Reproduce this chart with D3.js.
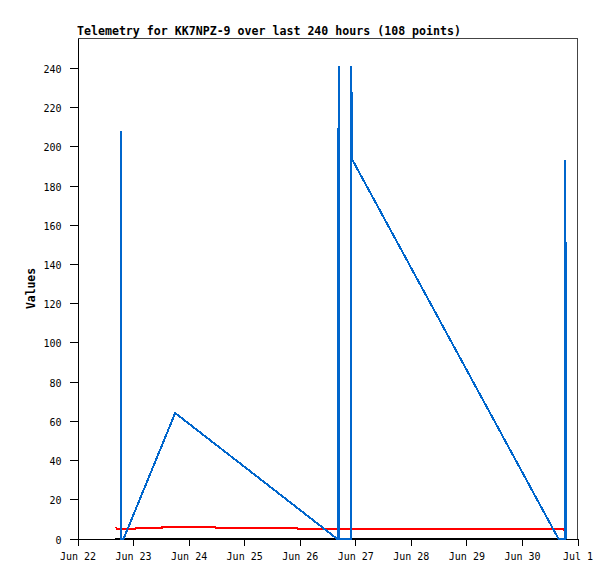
<!DOCTYPE html>
<html>
<head>
<meta charset="utf-8">
<script src="https://cdn.jsdelivr.net/npm/d3@7"></script>
<style>
  html, body { margin: 0; padding: 0; background: #fff; }
  svg { display: block; }
</style>
</head>
<body>
<svg id="chart" width="615" height="579"></svg>
<script>
// ---- data ----
const titleText = "Telemetry for KK7NPZ-9 over last 240 hours (108 points)";
const yLabel = "Values";
const xDomain = ["2023-06-22T00:00", "2023-07-01T00:00"];
const yDomain = [0, 255];
const yTicks = [0, 20, 40, 60, 80, 100, 120, 140, 160, 180, 200, 220, 240];

const blueTimes = [
  "2023-06-22T18:53", "2023-06-22T18:53", "2023-06-22T19:58", "2023-06-23T18:12",
  "2023-06-26T15:58", "2023-06-26T16:45", "2023-06-26T16:45", "2023-06-26T17:00",
  "2023-06-26T17:00", "2023-06-26T22:13", "2023-06-26T22:13", "2023-06-26T22:48",
  "2023-06-30T15:42", "2023-06-30T18:40", "2023-06-30T18:40", "2023-06-30T18:58",
  "2023-06-30T18:58"
];
const blueValues = [208, 0, 0, 64, 0, 0, 208, 241, 0, 0, 241, 193, 0, 0, 193, 112, 0];

const redTimes = [
  "2023-06-22T16:35", "2023-06-22T17:09", "2023-06-23T01:04", "2023-06-23T01:11",
  "2023-06-23T12:25", "2023-06-23T12:33", "2023-06-24T11:26", "2023-06-24T11:34",
  "2023-06-25T22:52", "2023-06-25T23:00", "2023-06-30T17:57", "2023-06-30T18:05"
];
const redValues = [5.9, 4.75, 4.75, 5.4, 5.4, 5.9, 5.9, 5.4, 5.4, 4.9, 4.9, 4.0];

const blackTimes = ["2023-06-22T16:18", "2023-06-30T19:22"];
const blackValues = [0, 0];

// ---- drawing ----
const parse = d3.timeParse("%Y-%m-%dT%H:%M");
const zip = (ts, vs) => ts.map((t, i) => ({ t: parse(t), v: vs[i] }));

const margin = { left: 77.5, right: 577.5, top: 38.5, bottom: 538.5 };
const svg = d3.select("#chart");
const mono = "'DejaVu Sans Mono', 'Liberation Mono', monospace";

const x = d3.scaleTime().domain(xDomain.map(parse)).range([margin.left, margin.right]);
const y = d3.scaleLinear().domain(yDomain).range([margin.bottom, margin.top]);

// frame (top / right)
svg.append("path")
  .attr("d", `M${margin.left},${margin.top}H${margin.right}V${margin.bottom}`)
  .attr("fill", "none").attr("stroke", "#444").attr("stroke-width", 1)
  .attr("shape-rendering", "crispEdges");

// axes
const yAxis = svg.append("g")
  .attr("transform", `translate(${margin.left},0)`)
  .call(d3.axisLeft(y).tickValues(yTicks).tickSize(8).tickSizeOuter(0).tickPadding(8));
yAxis.selectAll("text").attr("dy", "0.45em");

const xAxis = svg.append("g")
  .attr("transform", `translate(0,${margin.bottom})`)
  .call(d3.axisBottom(x).ticks(d3.timeDay.every(1)).tickFormat(d3.timeFormat("%b %-d"))
    .tickSize(7).tickSizeOuter(0).tickPadding(7));

[yAxis, xAxis].forEach(g => {
  g.attr("shape-rendering", "crispEdges");
  g.selectAll("path, line").attr("stroke", "#000");
  g.selectAll("text").attr("font-family", mono).attr("font-size", "10px").attr("fill", "#000");
});

// series
const line = d3.line().x(d => x(d.t)).y(d => y(d.v));
const series = [
  { data: zip(blackTimes, blackValues), color: "#000000" },
  { data: zip(redTimes, redValues), color: "#ff0000" },
  { data: zip(blueTimes, blueValues), color: "#0066cc" }
];
svg.append("g").selectAll("path").data(series).join("path")
  .attr("d", d => line(d.data))
  .attr("fill", "none")
  .attr("stroke", d => d.color)
  .attr("stroke-width", 2)
  .attr("shape-rendering", "crispEdges");

// title
svg.append("text")
  .attr("x", 77).attr("y", 35)
  .attr("font-family", mono).attr("font-size", "11.4px").attr("font-weight", "bold")
  .attr("textLength", 384).attr("lengthAdjust", "spacingAndGlyphs")
  .text(titleText);

// y label
svg.append("text")
  .attr("transform", `translate(35,${(margin.top + margin.bottom) / 2}) rotate(-90)`)
  .attr("text-anchor", "middle")
  .attr("font-family", mono).attr("font-size", "11.4px").attr("font-weight", "bold")
  .text(yLabel);
</script>
</body>
</html>
